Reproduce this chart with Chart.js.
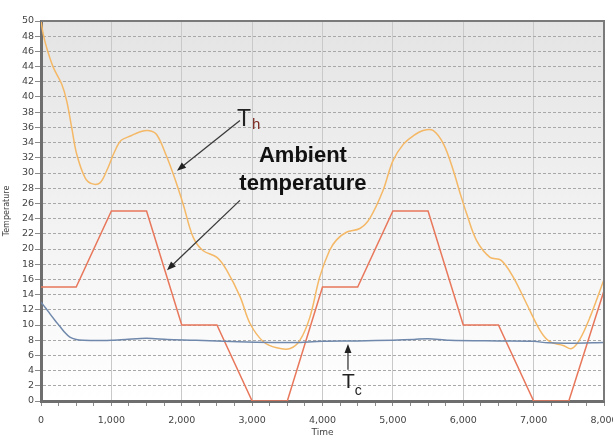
<!DOCTYPE html>
<html>
<head>
<meta charset="utf-8">
<script src="https://cdn.jsdelivr.net/npm/chart.js@4.4.1/dist/chart.umd.min.js"></script>
<style>
  html, body { margin: 0; padding: 0; background: #fff; }
  canvas { display: block; }
</style>
</head>
<body>
<canvas id="myChart" width="613" height="440"></canvas>
<script>
// ambient temperature (piecewise linear profile)
const ambientTime = [0, 500, 1000, 1500, 2000, 2500, 3000, 3500, 4000, 4500, 5000, 5500, 6000, 6500, 7000, 7500, 8000];
const ambientTemp = [15, 15, 25, 25, 10, 10, 0, 0, 15, 15, 25, 25, 10, 10, 0, 0, 14.5];

// Th - hot side
const hotTime = [0, 33, 80, 175, 294, 365, 436, 507, 625, 720, 838, 933, 1050, 1140, 1280, 1400, 1520, 1640, 1780, 1900, 2020, 2160, 2300, 2500, 2640, 2830, 2970, 3160, 3350, 3540, 3680, 3820, 3960, 4100, 4200, 4340, 4530, 4670, 4860, 5000, 5150, 5290, 5430, 5570, 5720, 5860, 5950, 6050, 6190, 6380, 6540, 6710, 6900, 7090, 7230, 7420, 7540, 7650, 7800, 8000];
const hotTemp = [50, 48.2, 46.5, 43.9, 41.7, 39.5, 36, 32.5, 29.4, 28.6, 28.7, 30.3, 32.9, 34.3, 34.9, 35.4, 35.6, 35.1, 32.3, 29.3, 25.9, 21.6, 19.8, 18.9, 17.2, 13.7, 10.2, 7.8, 7.0, 6.9, 8.0, 11, 16.3, 19.8, 21.2, 22.2, 22.7, 24, 27.7, 31.6, 33.8, 34.9, 35.6, 35.6, 33.8, 30.3, 27.5, 24.6, 21.1, 18.9, 18.5, 16.3, 12.8, 9.3, 7.8, 7.3, 6.9, 8, 11, 16];

// Tc - cold side
const coldTime = [0, 60, 125, 200, 270, 340, 410, 500, 600, 800, 1000, 1200, 1500, 1800, 2200, 2800, 3300, 3600, 4000, 4500, 5000, 5300, 5500, 5800, 6500, 7000, 7200, 7500, 8000];
const coldTemp = [13, 12.3, 11.5, 10.6, 9.8, 9, 8.4, 8.1, 8.0, 7.95, 8.0, 8.1, 8.25, 8.1, 8.0, 7.8, 7.7, 7.7, 7.85, 7.9, 8.0, 8.1, 8.2, 8.0, 7.9, 7.85, 7.65, 7.6, 7.7];

const toPoints = (xs, ys) => xs.map((t, i) => ({ x: t, y: ys[i] }));

const plotBg = {
  id: 'plotBg',
  beforeDraw(chart) {
    const { ctx, chartArea: a } = chart;
    const g = ctx.createLinearGradient(0, a.top, 0, a.bottom);
    g.addColorStop(0, '#e4e4e4');
    g.addColorStop(1, '#ffffff');
    ctx.save();
    ctx.fillStyle = g;
    ctx.fillRect(a.left, a.top, a.right - a.left, a.bottom - a.top);
    ctx.restore();
  },
  afterDraw(chart) {
    const { ctx, chartArea: a } = chart;
    ctx.save();
    ctx.strokeStyle = '#7a7a7a';
    ctx.lineWidth = 2;
    ctx.beginPath();
    ctx.moveTo(a.left, a.top);
    ctx.lineTo(a.right, a.top);
    ctx.lineTo(a.right, a.bottom);
    ctx.stroke();
    ctx.restore();
  }
};

function arrow(ctx, x1, y1, x2, y2) {
  const ang = Math.atan2(y2 - y1, x2 - x1);
  const len = 9, w = 3.5;
  ctx.beginPath();
  ctx.moveTo(x1, y1);
  ctx.lineTo(x2 - Math.cos(ang) * len * 0.8, y2 - Math.sin(ang) * len * 0.8);
  ctx.stroke();
  ctx.beginPath();
  ctx.moveTo(x2, y2);
  ctx.lineTo(x2 - Math.cos(ang) * len - Math.sin(ang) * w, y2 - Math.sin(ang) * len + Math.cos(ang) * w);
  ctx.lineTo(x2 - Math.cos(ang) * len + Math.sin(ang) * w, y2 - Math.sin(ang) * len - Math.cos(ang) * w);
  ctx.closePath();
  ctx.fill();
}

const notes = {
  id: 'notes',
  afterDatasetsDraw(chart) {
    const { ctx } = chart;
    const x = chart.scales.x, y = chart.scales.y;
    const px = t => x.getPixelForValue(t);
    const py = v => y.getPixelForValue(v);
    ctx.save();
    ctx.strokeStyle = '#3a3a3a';
    ctx.fillStyle = '#222';
    ctx.lineWidth = 1.3;
    arrow(ctx, px(2827), py(36.9), px(1932), py(30.3));
    arrow(ctx, px(2827), py(26.4), px(1790), py(17.2));
    arrow(ctx, px(4362), py(4.1), px(4362), py(7.5));

    ctx.textBaseline = 'alphabetic';
    // T_h
    ctx.textAlign = 'left';
    ctx.font = '23px "Liberation Sans", Arial, sans-serif';
    let tx = px(2785), ty = py(36.2);
    ctx.fillText('T', tx, ty);
    let tw = ctx.measureText('T').width;
    ctx.fillStyle = '#7b2b22';
    ctx.font = '15px "Liberation Sans", Arial, sans-serif';
    ctx.fillText('h', tx + tw + 1, ty + 3);

    // T_c
    ctx.fillStyle = '#222';
    ctx.font = '21px "Liberation Sans", Arial, sans-serif';
    tx = px(4277); ty = py(1.7);
    ctx.fillText('T', tx, ty);
    tw = ctx.measureText('T').width;
    ctx.font = '14px "Liberation Sans", Arial, sans-serif';
    ctx.fillText('c', tx + tw, ty + 7);

    // Ambient temperature
    ctx.fillStyle = '#111';
    ctx.textAlign = 'center';
    ctx.font = 'bold 22px "Liberation Sans", Arial, sans-serif';
    ctx.fillText('Ambient', px(3722), py(31.4));
    ctx.fillText('temperature', px(3722), py(27.7));
    ctx.restore();
  }
};

const tickFont = { family: '"DejaVu Sans", sans-serif', size: 9.5 };

new Chart(document.getElementById('myChart'), {
  type: 'line',
  data: {
    datasets: [
      {
        label: 'Tc',
        data: toPoints(coldTime, coldTemp),
        borderColor: '#6f88ab',
        borderWidth: 1.5,
        pointRadius: 0,
        tension: 0.3
      },
      {
        label: 'Th',
        data: toPoints(hotTime, hotTemp),
        borderColor: '#f4b866',
        borderWidth: 1.5,
        pointRadius: 0,
        tension: 0.35
      },
      {
        label: 'Ambient',
        data: toPoints(ambientTime, ambientTemp),
        borderColor: '#e8775b',
        borderWidth: 1.5,
        pointRadius: 0,
        tension: 0
      }
    ]
  },
  options: {
    responsive: false,
    animation: false,
    devicePixelRatio: 1,
    layout: { padding: { top: 21, right: 9, left: 0, bottom: 0 } },
    plugins: {
      legend: { display: false },
      tooltip: { enabled: false }
    },
    scales: {
      x: {
        type: 'linear',
        min: 0,
        max: 8000,
        afterFit: s => { s.height = 39; s.paddingLeft = 0; s.paddingRight = 0; },
        ticks: {
          stepSize: 250,
          autoSkip: false,
          maxRotation: 0,
          padding: 9,
          color: '#444',
          font: tickFont,
          callback: v => (v % 1000 === 0 ? v.toLocaleString('en-US') : '')
        },
        grid: {
          color: c => (c.tick && c.tick.value % 1000 === 0 ? '#c9c9c9' : 'rgba(0,0,0,0)'),
          tickColor: '#8a8a8a',
          tickLength: 5,
          lineWidth: 1
        },
        border: { display: true, color: '#6e6e6e', width: 3 },
        title: {
          display: true,
          text: 'Time',
          color: '#444',
          font: { family: '"DejaVu Sans", sans-serif', size: 9 },
          padding: { top: 0, bottom: 2 }
        }
      },
      y: {
        min: 0,
        max: 50,
        afterFit: s => { s.width = 41; s.paddingTop = 0; s.paddingBottom = 0; },
        ticks: {
          stepSize: 2,
          autoSkip: false,
          padding: 1,
          color: '#444',
          font: tickFont
        },
        grid: {
          color: '#a8a8a8',
          tickColor: '#8a8a8a',
          tickLength: 6,
          lineWidth: 1
        },
        border: { display: true, color: '#6e6e6e', width: 3, dash: [3, 2] },
        title: {
          display: true,
          text: 'Temperature',
          color: '#444',
          font: { family: '"DejaVu Sans", sans-serif', size: 8 },
          padding: { top: 2, bottom: 0 }
        }
      }
    }
  },
  plugins: [plotBg, notes]
});
</script>
</body>
</html>
